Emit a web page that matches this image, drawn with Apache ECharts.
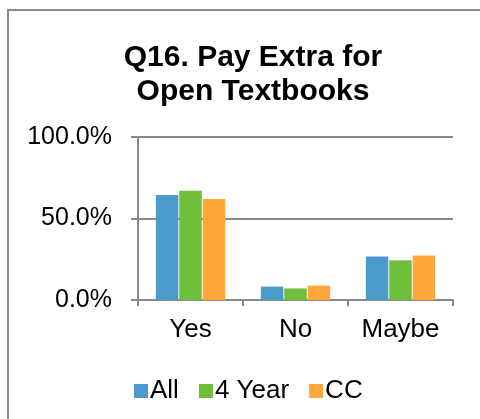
<!DOCTYPE html>
<html>
<head>
<meta charset="utf-8">
<script src="https://cdn.jsdelivr.net/npm/echarts@6/dist/echarts.min.js"></script>
<style>html,body{margin:0;padding:0;background:#fff;}#c{width:480px;height:419px;}</style>
</head>
<body>
<div id="c"></div>
<script>
var categories = ['Yes', 'No', 'Maybe'];
var seriesNames = ['All', '4 Year', 'CC'];
var allValues = [0.643, 0.082, 0.267];
var fourYearValues = [0.669, 0.071, 0.243];
var ccValues = [0.618, 0.088, 0.273];
var yTicks = [0, 0.5, 1];

var FONT = "'Liberation Sans', Arial, sans-serif";
var colors = ['#4A9BCB', '#70BF3B', '#FFA73B'];
var gray = '#898989';

var chart = echarts.init(document.getElementById('c'));
var values = [allValues, fourYearValues, ccValues];
chart.setOption({
  animation: false,
  color: colors,
  title: {
    text: 'Q16. Pay Extra for\nOpen Textbooks',
    left: 248, top: 36, textAlign: 'center',
    textStyle: { fontFamily: FONT, fontSize: 30, fontWeight: 'bold', color: '#000', lineHeight: 34 }
  },
  graphic: [{
    type: 'rect', silent: true,
    shape: { x: 8, y: 10, width: 900, height: 900 },
    style: { fill: 'none', stroke: gray, lineWidth: 2 }
  }],
  legend: {
    data: seriesNames,
    left: 129, top: 373,
    itemWidth: 14, itemHeight: 14, itemGap: 20,
    icon: 'rect',
    textStyle: { fontFamily: FONT, fontSize: 26, color: '#000', padding: [0, 0, 0, -3] }
  },
  grid: { left: 138, right: 27, top: 136.7, bottom: 119, containLabel: false },
  xAxis: {
    type: 'category', data: categories,
    axisLine: { lineStyle: { color: gray, width: 2 } },
    axisTick: { show: true, length: 6, lineStyle: { color: gray, width: 2 } },
    axisLabel: { fontFamily: FONT, fontSize: 26, color: '#000', margin: 17 }
  },
  yAxis: {
    type: 'value', min: yTicks[0], max: yTicks[yTicks.length - 1], interval: yTicks[1] - yTicks[0],
    axisLine: { show: true, lineStyle: { color: gray, width: 2 } },
    axisTick: { show: true, length: 7, lineStyle: { color: gray, width: 2 } },
    splitLine: { show: true, lineStyle: { color: gray, width: 2 } },
    axisLabel: {
      fontFamily: FONT, fontSize: 25, color: '#000', margin: 26,
      formatter: function (v) { return (v * 100).toFixed(1) + '%'; }
    }
  },
  series: seriesNames.map(function (n, i) {
    return {
      name: n, type: 'bar', data: values[i],
      barGap: '4%', barCategoryGap: '34%',
      itemStyle: { color: colors[i] }
    };
  })
});
</script>
</body>
</html>
